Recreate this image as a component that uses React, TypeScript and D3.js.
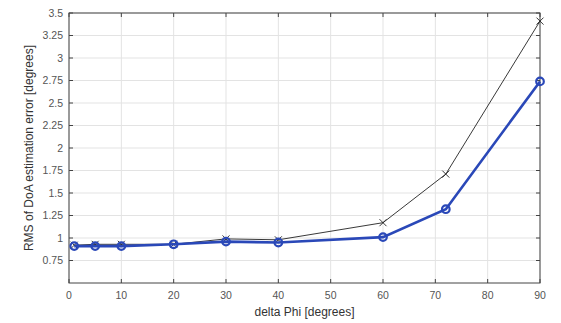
import React from "react";
import * as d3 from "d3";

const deltaPhi = [1, 5, 10, 20, 30, 40, 60, 72, 90];
const rmsBlack = [0.92, 0.93, 0.93, 0.93, 0.99, 0.98, 1.17, 1.71, 3.41];
const rmsBlue = [0.91, 0.91, 0.91, 0.93, 0.96, 0.95, 1.01, 1.32, 2.74];
const xTicks = [0, 10, 20, 30, 40, 50, 60, 70, 80, 90];
const yTicks = [0.75, 1, 1.25, 1.5, 1.75, 2, 2.25, 2.5, 2.75, 3, 3.25, 3.5];

const W = 561, H = 323;
const L = 69, R = 540, T = 13, B = 283;

export default function App() {
  const x = d3.scaleLinear().domain([0, 90]).range([L, R]);
  const y = d3.scaleLinear().domain([0.5, 3.5]).range([B, T]);
  const line = d3.line<number>().x((_, i) => x(deltaPhi[i])).y((d) => y(d));
  const font = "'Liberation Sans', Arial, sans-serif";
  const textCol = "#555";
  return (
    <svg width={W} height={H} style={{ position: "absolute", left: 0, top: 0 }}>
      <rect x={0} y={0} width={W} height={H} fill="#fff" />
      {xTicks.map((t) => (
        <line key={"gx" + t} x1={x(t)} x2={x(t)} y1={T} y2={B} stroke="#e3e3e3" strokeWidth={1} />
      ))}
      {yTicks.map((t) => (
        <line key={"gy" + t} x1={L} x2={R} y1={y(t)} y2={y(t)} stroke="#e3e3e3" strokeWidth={1} />
      ))}
      <rect x={L} y={T} width={R - L} height={B - T} fill="none" stroke="#444" strokeWidth={1} />
      {xTicks.map((t) => (
        <g key={"tx" + t}>
          <line x1={x(t)} x2={x(t)} y1={B} y2={B - 4} stroke="#444" />
          <line x1={x(t)} x2={x(t)} y1={T} y2={T + 4} stroke="#444" />
          <text x={x(t)} y={B + 16} textAnchor="middle" fontSize={10.5} fontFamily={font} fill={textCol}>{t}</text>
        </g>
      ))}
      {yTicks.map((t) => (
        <g key={"ty" + t}>
          <line x1={L} x2={L + 4} y1={y(t)} y2={y(t)} stroke="#444" />
          <line x1={R} x2={R - 4} y1={y(t)} y2={y(t)} stroke="#444" />
          <text x={L - 6} y={y(t) + 3.5} textAnchor="end" fontSize={10.5} fontFamily={font} fill={textCol}>{String(t)}</text>
        </g>
      ))}
      <text x={(L + R) / 2} y={B + 33} textAnchor="middle" fontSize={12} fontFamily={font} fill="#333">delta Phi [degrees]</text>
      <text transform={`translate(33,${(T + B) / 2}) rotate(-90)`} textAnchor="middle" fontSize={12} fontFamily={font} fill="#333">RMS of DoA estimation error [degrees]</text>
      <path d={line(rmsBlack) || ""} fill="none" stroke="#222" strokeWidth={0.9} />
      {rmsBlack.map((v, i) => (
        <g key={"bx" + i} stroke="#222" strokeWidth={0.9}>
          <line x1={x(deltaPhi[i]) - 3.5} x2={x(deltaPhi[i]) + 3.5} y1={y(v) - 3.5} y2={y(v) + 3.5} />
          <line x1={x(deltaPhi[i]) - 3.5} x2={x(deltaPhi[i]) + 3.5} y1={y(v) + 3.5} y2={y(v) - 3.5} />
        </g>
      ))}
      <path d={line(rmsBlue) || ""} fill="none" stroke="#2a48b8" strokeWidth={2.6} />
      {rmsBlue.map((v, i) => (
        <circle key={"bc" + i} cx={x(deltaPhi[i])} cy={y(v)} r={3.8} fill="none" stroke="#2a48b8" strokeWidth={2.2} />
      ))}
    </svg>
  );
}
